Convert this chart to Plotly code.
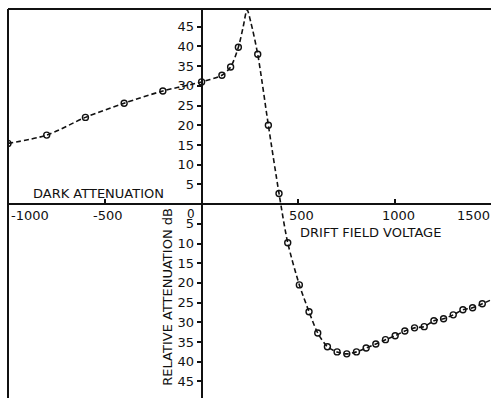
import plotly.graph_objects as go

# Measured points (drift field voltage, attenuation dB: + dark, - relative)
marker_v = [-1000, -800, -600, -400, -200, 0, 105, 150, 190, 290, 345, 400,
            445, 505, 555, 600, 650, 700, 750, 800, 850, 900, 950, 1000, 1050,
            1100, 1150, 1200, 1250, 1300, 1350, 1400, 1450]
marker_db = [15.4, 17.5, 22.0, 25.6, 28.7, 31.0, 32.7, 34.8, 39.8, 38.0, 20.0, 2.7,
             -9.8, -20.5, -27.3, -32.7, -36.2, -37.5, -38.0, -37.5, -36.5, -35.5, -34.4,
             -33.4, -32.2, -31.4, -31.1, -29.6, -29.1, -28.1, -26.8, -26.3, -25.3]

# Extra curve points (peak shape and run-off at the right edge), no markers
peak_v = [215, 235, 255]
peak_db = [45.0, 49.3, 46.0]
tail_v = [1500]
tail_db = [-24.2]

x_ticks = [-1000, -500, 500, 1000, 1500]
x_ticktext = ["-1000", "-500", "500", "1000", "1500"]
y_ticks = [-45, -40, -35, -30, -25, -20, -15, -10, -5, 5, 10, 15, 20, 25, 30, 35, 40, 45]
y_ticktext = [str(abs(v)) for v in y_ticks]

X_RANGE = [-1000, 1495]
Y_RANGE = [-49.2, 49.5]

# Build the full curve (sorted by voltage)
pts = sorted(list(zip(marker_v, marker_db)) + list(zip(peak_v, peak_db)) + list(zip(tail_v, tail_db)))
curve_v = [p[0] for p in pts]
curve_db = [p[1] for p in pts]

FONT = "DejaVu Sans"
INK = "#111111"

fig = go.Figure()
fig.add_trace(go.Scatter(
    x=curve_v, y=curve_db, mode="lines",
    line=dict(color=INK, width=1.6, dash="5px,3px", shape="spline", smoothing=0.8),
    hoverinfo="skip", showlegend=False))
fig.add_trace(go.Scatter(
    x=marker_v, y=marker_db, mode="markers",
    marker=dict(symbol="circle-open", size=6, color=INK, line=dict(width=1.4, color=INK)),
    showlegend=False))

xpos = (0 - Y_RANGE[0]) / (Y_RANGE[1] - Y_RANGE[0])
ypos = (0 - X_RANGE[0]) / (X_RANGE[1] - X_RANGE[0])

fig.update_layout(
    width=491, height=398,
    margin=dict(l=8, r=0, t=9, b=0),
    paper_bgcolor="white", plot_bgcolor="white",
    font=dict(family=FONT, size=13, color=INK),
    xaxis=dict(range=X_RANGE, anchor="free", position=xpos,
               showline=True, linewidth=2, linecolor=INK,
               ticks="inside", ticklen=4, tickwidth=1.5, tickcolor=INK,
               tickvals=x_ticks, showticklabels=False,
               showgrid=False, zeroline=False),
    yaxis=dict(range=Y_RANGE, anchor="free", position=ypos,
               showline=True, linewidth=2, linecolor=INK,
               ticks="outside", ticklen=4, tickwidth=1.5, tickcolor=INK,
               tickvals=y_ticks, ticktext=y_ticktext,
               tickfont=dict(family=FONT, size=13, color=INK),
               showgrid=False, zeroline=False),
    shapes=[
        dict(type="line", xref="paper", yref="paper", x0=0, x1=1, y0=1, y1=1,
             line=dict(color=INK, width=2)),
        dict(type="line", xref="paper", yref="paper", x0=0, x1=0, y0=0, y1=1,
             line=dict(color=INK, width=2)),
    ],
)

ann = []
for v, t in zip(x_ticks, x_ticktext):
    if v == X_RANGE[0]:
        ann.append(dict(x=v, y=0, xref="x", yref="y", text=t, showarrow=False,
                        xanchor="left", yanchor="top", xshift=1, yshift=-2))
    elif v > X_RANGE[1]:
        ann.append(dict(x=1, y=0, xref="paper", yref="y", text=t, showarrow=False,
                        xanchor="right", yanchor="top", xshift=1, yshift=-2))
    else:
        ann.append(dict(x=v, y=0, xref="x", yref="y", text=t, showarrow=False,
                        xanchor="center", yanchor="top", xshift=3, yshift=-2))
ann.append(dict(x=0, y=0, xref="x", yref="y", text="0", showarrow=False,
                font=dict(size=12), xanchor="right", yanchor="top",
                xshift=-6, yshift=-2, borderpad=0))
ann.append(dict(x=-530, y=2.7, xref="x", yref="y", text="DARK ATTENUATION",
                showarrow=False, xanchor="center", yanchor="middle"))
ann.append(dict(x=870, y=-7.2, xref="x", yref="y", text="DRIFT FIELD VOLTAGE",
                showarrow=False, xanchor="center", yanchor="middle"))
ann.append(dict(x=0, y=-23.6, xref="x", yref="y", text="RELATIVE ATTENUATION dB",
                showarrow=False, textangle=-90, xanchor="center", yanchor="middle",
                xshift=-34))
fig.update_layout(annotations=ann)

fig.write_html("out.html")
